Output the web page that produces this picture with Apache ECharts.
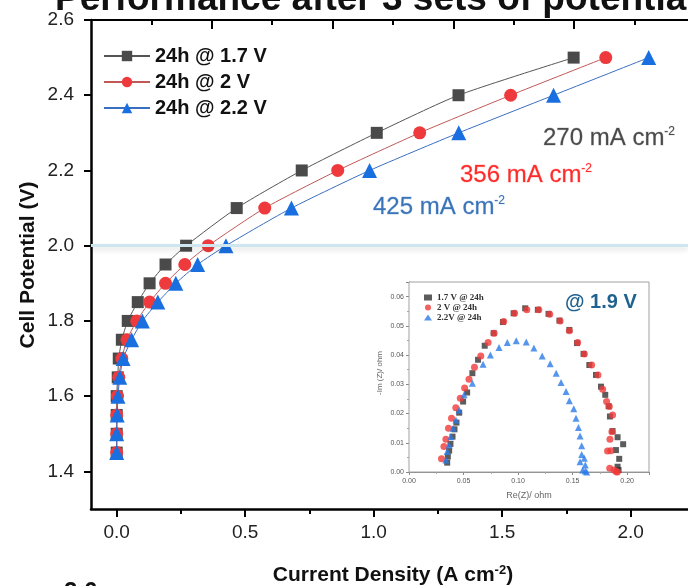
<!DOCTYPE html>
<html><head><meta charset="utf-8">
<script src="https://cdn.jsdelivr.net/npm/echarts@6/dist/echarts.min.js"></script>
<style>html,body{margin:0;padding:0;background:#fff}#c{width:688px;height:586px}</style>
</head><body><div id="c"></div>
<script>
// ---- main polarization data (cell potential V vs current density A cm^-2) ----
const voltages = [1.45,1.5,1.55,1.6,1.65,1.7,1.75,1.8,1.85,1.9,1.95,2.0,2.1,2.2,2.3,2.4,2.5];
const cd_1p7 = [0,0,0,0,0.004,0.008,0.02,0.043,0.082,0.128,0.19,0.27,0.467,0.72,1.012,1.33,1.778];
const cd_2p0 = [0,0,0,0.003,0.008,0.02,0.04,0.078,0.128,0.19,0.265,0.356,0.576,0.86,1.179,1.533,1.903];
const cd_2p2 = [0,0,0.002,0.005,0.012,0.025,0.058,0.10,0.16,0.23,0.315,0.425,0.68,0.984,1.331,1.70,2.07];
const mainNames = ['24h @ 1.7 V','24h @ 2 V','24h @ 2.2 V'];
const xTickLabels = [0,0.5,1.0,1.5,2.0];
const xMinorTicks = [0.25,0.75,1.25,1.75];
const yTickLabels = [1.4,1.6,1.8,2.0,2.2,2.4,2.6];
const yMinorTicks = [1.5,1.7,1.9,2.1,2.3,2.5];
const topMajorTicks = [0.5,1.0,1.5,2.0];
const topMinorTicks = [0.25,0.75,1.25,1.75,2.25];
const refVoltage = 2.0;

// ---- inset Nyquist data ----
const insetNames = ['1.7 V @ 24h','2 V @ 24h','2.2V @ 24h'];
const eis_1p7_re = [0.0350,0.0356,0.0368,0.0380,0.0399,0.0417,0.0435,0.0460,0.0496,0.0533,0.0581,0.0633,0.0694,0.0776,0.0861,0.0959,0.1065,0.1181,0.1279,0.1379,0.1470,0.1540,0.1600,0.1653,0.1714,0.1760,0.1799,0.1830,0.1842,0.1866,0.1912,0.1963,0.1897,0.1927,0.1912,0.1921];
const eis_1p7_im = [0.0032,0.0053,0.0073,0.0096,0.0121,0.0146,0.0169,0.0203,0.0241,0.0272,0.0338,0.0384,0.0432,0.0475,0.0513,0.0543,0.0560,0.0555,0.0541,0.0518,0.0486,0.0441,0.0404,0.0366,0.0332,0.0292,0.0264,0.0225,0.0190,0.0140,0.0119,0.0095,0.0075,0.0045,0.0018,0.0007];
const eis_2p0_re = [0.0298,0.0320,0.0338,0.0362,0.0390,0.0429,0.0470,0.0510,0.0550,0.0600,0.0658,0.0725,0.0780,0.0868,0.0968,0.1080,0.1190,0.1290,0.1385,0.1470,0.1546,0.1607,0.1674,0.1732,0.1775,0.1811,0.1836,0.1866,0.1860,0.1842,0.1820,0.1850,0.1840,0.1880,0.1900,0.1910];
const eis_2p0_im = [0.0045,0.0087,0.0112,0.0150,0.0184,0.0220,0.0252,0.0287,0.0317,0.0358,0.0397,0.0443,0.0475,0.0515,0.0543,0.0555,0.0555,0.0540,0.0517,0.0483,0.0443,0.0404,0.0366,0.0332,0.0283,0.0241,0.0224,0.0195,0.0138,0.0112,0.0072,0.0073,0.0013,0.0007,0.0001,0.0000];
const eis_2p2_re = [0.0338,0.0350,0.0368,0.0384,0.0405,0.0430,0.0460,0.0505,0.0581,0.0679,0.0746,0.0825,0.0901,0.0983,0.1075,0.1145,0.1221,0.1294,0.1349,0.1394,0.1440,0.1470,0.1510,0.1531,0.1553,0.1568,0.1583,0.1583,0.1568,0.1607,0.1616,0.1592,0.1616,0.1629];
const eis_2p2_im = [0.0041,0.0070,0.0092,0.0121,0.0150,0.0178,0.0212,0.0264,0.0304,0.0369,0.0400,0.0426,0.0443,0.0449,0.0445,0.0424,0.0397,0.0370,0.0338,0.0306,0.0275,0.0244,0.0216,0.0184,0.0152,0.0123,0.0090,0.0060,0.0035,0.0047,0.0024,0.0007,0.0003,0.0000];
const insetXLabels = [0,0.05,0.10,0.15,0.20];

const FF = "'Liberation Sans', Arial, sans-serif";
const pair = (xs, ys) => xs.map((x, i) => [x, ys[i]]);
const mainData = [pair(cd_1p7, voltages), pair(cd_2p0, voltages), pair(cd_2p2, voltages)];

const chart = echarts.init(document.getElementById('c'), null, {renderer: 'canvas'});

function tickAxis(opts) {
  return Object.assign({
    type: 'value', gridIndex: 0,
    axisLine: {show: false, onZero: false},
    axisLabel: {show: false},
    splitLine: {show: false}
  }, opts);
}
function note(x, y, val, fill, halo) {
  return {type: 'text', x: x, y: y, z: 10, style: {text: '{a|' + val + ' mA cm}{s|-2}', align: 'left', verticalAlign: 'middle',
    rich: {a: {fontFamily: FF, fontSize: 24, fill: fill, stroke: halo, lineWidth: 0.8},
           s: {fontFamily: FF, fontSize: 12, fill: fill, stroke: halo, lineWidth: 0.6, padding: [0, 0, 13, 0]}}}};
}

const option = {
  animation: false,
  backgroundColor: '#fff',
  grid: [
    {left: 91, top: 20, right: 0, bottom: 77},
    {left: 409, top: 282, width: 240, height: 190, show: true, borderColor: '#a0a0a0', borderWidth: 1, backgroundColor: '#fff', z: 4}
  ],
  xAxis: [
    {type: 'value', gridIndex: 0, position: 'bottom', min: -0.1, max: 2.223,
     axisLine: {show: true, onZero: false, lineStyle: {color: '#000', width: 2.5}},
     axisTick: {show: true, customValues: xTickLabels, length: 8, lineStyle: {color: '#000', width: 2}},
     axisLabel: {customValues: xTickLabels, formatter: v => v.toFixed(1), fontSize: 19, color: '#222', margin: 14, fontFamily: FF},
     splitLine: {show: false}},
    tickAxis({position: 'bottom', min: -0.1, max: 2.223,
     axisTick: {show: true, customValues: xMinorTicks, length: 5, lineStyle: {color: '#000', width: 2}}}),
    tickAxis({position: 'top', min: 0, max: 2.471,
     axisLine: {show: true, onZero: false, lineStyle: {color: '#000', width: 2}},
     axisTick: {show: true, inside: true, customValues: topMajorTicks, length: 9, lineStyle: {color: '#000', width: 2}}}),
    tickAxis({position: 'top', min: 0, max: 2.471,
     axisTick: {show: true, inside: true, customValues: topMinorTicks, length: 5, lineStyle: {color: '#000', width: 2}}}),
    {type: 'value', gridIndex: 1, min: 0, max: 0.22, interval: 0.05,
     axisLine: {show: true, onZero: false, lineStyle: {color: '#888', width: 1}},
     axisTick: {show: true, length: 3, lineStyle: {color: '#888'}},
     minorTick: {show: true, splitNumber: 2, length: 2, lineStyle: {color: '#aaa'}},
     axisLabel: {customValues: insetXLabels, formatter: v => v.toFixed(2), fontSize: 7, color: '#555', margin: 6, fontFamily: FF},
     splitLine: {show: false}}
  ],
  yAxis: [
    {type: 'value', gridIndex: 0, min: 1.3, max: 2.6,
     axisLine: {show: true, onZero: false, lineStyle: {color: '#000', width: 2.5}},
     axisTick: {show: true, customValues: yTickLabels, length: 7, lineStyle: {color: '#000', width: 2}},
     axisLabel: {customValues: yTickLabels, formatter: v => v.toFixed(1), fontSize: 19, color: '#222', margin: 17, fontFamily: FF},
     splitLine: {show: false}},
    tickAxis({min: 1.3, max: 2.6,
     axisTick: {show: true, customValues: yMinorTicks, length: 4, lineStyle: {color: '#000', width: 2}}}),
    {type: 'value', gridIndex: 1, min: 0, max: 0.065, interval: 0.01,
     axisLine: {show: true, onZero: false, lineStyle: {color: '#888', width: 1}},
     axisTick: {show: true, length: 3, lineStyle: {color: '#888'}},
     minorTick: {show: true, splitNumber: 2, length: 2, lineStyle: {color: '#aaa'}},
     axisLabel: {showMaxLabel: false, formatter: v => v.toFixed(2), fontSize: 7, color: '#555', margin: 5, fontFamily: FF},
     splitLine: {show: false}}
  ],
  legend: [
    {data: mainNames, orient: 'vertical', left: 98, top: 41, itemGap: 6, itemWidth: 46, itemHeight: 13,
     textStyle: {fontFamily: FF, fontWeight: 'bold', fontSize: 20, color: '#111'}, selectedMode: false},
    {data: insetNames, orient: 'vertical', left: 419, top: 288, itemGap: 1, itemWidth: 8, itemHeight: 6,
     textStyle: {fontFamily: "'Liberation Serif', serif", fontWeight: 'bold', fontSize: 9, color: '#333'}, selectedMode: false, z: 6}
  ],
  series: [
    {type: 'line', name: '__ref', xAxisIndex: 0, yAxisIndex: 0, data: [], z: 1,
     markLine: {silent: true, symbol: ['none', 'none'], label: {show: false},
       lineStyle: {color: '#cde6f0', width: 3, type: 'solid', shadowColor: 'rgba(0,0,0,0.13)', shadowBlur: 5, shadowOffsetY: 3},
       data: [{yAxis: refVoltage}]}},
    {type: 'line', name: mainNames[0], xAxisIndex: 0, yAxisIndex: 0, data: mainData[0], smooth: 0.2,
     symbol: 'rect', symbolSize: 12, lineStyle: {color: '#555', width: 1}, itemStyle: {color: '#4a4a4a'}, z: 3},
    {type: 'line', name: mainNames[1], xAxisIndex: 0, yAxisIndex: 0, data: mainData[1], smooth: 0.2,
     symbol: 'circle', symbolSize: 13, lineStyle: {color: '#c05858', width: 1}, itemStyle: {color: '#ee3a3c'}, z: 3},
    {type: 'line', name: mainNames[2], xAxisIndex: 0, yAxisIndex: 0, data: mainData[2], smooth: 0.2,
     symbol: 'triangle', symbolSize: 15, lineStyle: {color: '#3a6fc0', width: 1}, itemStyle: {color: '#1a6fe0'}, z: 3},
    {type: 'scatter', name: insetNames[0], xAxisIndex: 4, yAxisIndex: 2, data: pair(eis_1p7_re, eis_1p7_im),
     symbol: 'rect', symbolSize: 6, itemStyle: {color: '#333'}, z: 5},
    {type: 'scatter', name: insetNames[1], xAxisIndex: 4, yAxisIndex: 2, data: pair(eis_2p0_re, eis_2p0_im),
     symbol: 'circle', symbolSize: 7, itemStyle: {color: '#f03a3a'}, z: 5},
    {type: 'scatter', name: insetNames[2], xAxisIndex: 4, yAxisIndex: 2, data: pair(eis_2p2_re, eis_2p2_im),
     symbol: 'triangle', symbolSize: 7, itemStyle: {color: '#2a7ae8'}, z: 5}
  ],
  graphic: [
    {type: 'text', x: 55, y: 0, z: 10, style: {text: 'Performance after 3 sets of potential', fontFamily: FF, fontWeight: 'bold', fontSize: 37, fill: '#111', align: 'left', verticalAlign: 'middle'}},
    {type: 'text', x: 28, y: 265, rotation: Math.PI / 2, z: 10, style: {text: 'Cell Potential (V)', fontFamily: FF, fontWeight: 'bold', fontSize: 21, fill: '#111', align: 'center', verticalAlign: 'middle'}},
    {type: 'text', x: 393, y: 575, z: 10, style: {text: '{a|Current Density (A cm}{s|-2}{a|)}', align: 'center', verticalAlign: 'middle',
      rich: {a: {fontFamily: FF, fontWeight: 'bold', fontSize: 21, fill: '#111'}, s: {fontFamily: FF, fontWeight: 'bold', fontSize: 13, fill: '#111', padding: [0, 0, 10, 0]}}}},
    {type: 'text', x: 64, y: 592, z: 10, style: {text: '2.6', fontFamily: FF, fontWeight: 'bold', fontSize: 24, fill: '#111', align: 'left', verticalAlign: 'middle'}},
    note(543, 138, '270', '#4a4a4a', '#cfcfcf'),
    note(460, 175, '356', '#ff2a2a', '#ffc4c4'),
    note(373, 207, '425', '#3a74b8', '#c4d6ee'),
    {type: 'text', x: 565, y: 302, z: 10, style: {text: '@ 1.9 V', fontFamily: FF, fontWeight: 'bold', fontSize: 20, fill: '#1f6290', align: 'left', verticalAlign: 'middle'}},
    {type: 'text', x: 529, y: 496, z: 10, style: {text: 'Re(Z)/ ohm', fontFamily: FF, fontSize: 9, fill: '#666', align: 'center', verticalAlign: 'middle'}},
    {type: 'text', x: 380, y: 373, rotation: Math.PI / 2, z: 10, style: {text: '-Im (Z)/ ohm', fontFamily: FF, fontSize: 8, fill: '#666', align: 'center', verticalAlign: 'middle'}}
  ]
};
chart.setOption(option);
</script></body></html>
